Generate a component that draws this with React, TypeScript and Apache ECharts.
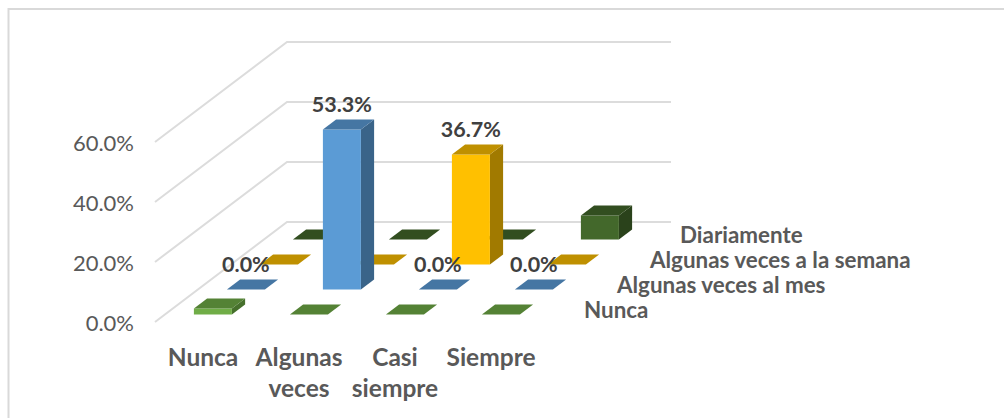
import React, { useEffect, useRef } from "react";
import * as echarts from "echarts";

const categories = ["Nunca", "Algunas\nveces", "Casi\nsiempre", "Siempre"];
const depthNames = ["Nunca", "Algunas veces al mes", "Algunas veces a la semana", "Diariamente"];
const rowNunca = [2.0, 0, 0, 0];
const rowMes = [0, 53.3, 0, 0];
const rowSemana = [0, 0, 36.7, 0];
const rowDiario = [0, 0, 0, 8.0];
const yTicks = [0, 20, 40, 60];

const rowValues = [rowNunca, rowMes, rowSemana, rowDiario];
const labelled = [
  [false, false, false, false],
  [true, true, true, true],
  [false, false, true, false],
  [false, false, false, false],
];
const faceColors = [
  { front: "#70AD47", top: "#548235", side: "#46702C" },
  { front: "#5B9BD5", top: "#4576A3", side: "#3A6489" },
  { front: "#FFC000", top: "#BF9000", side: "#A17A00" },
  { front: "#43682B", top: "#324E20", side: "#2A421B" },
];

const SLOPE = 1.32; // floor run per floor rise
const ROW = 25; // rise of a depth row
const BAR_W = 38;
const BAR_D = 10;
const FONT = "Lato, Carlito, sans-serif";

function barItem(row: number) {
  return (_p: any, api: any) => {
    const cat = api.value(0);
    const val = api.value(1);
    const base = api.coord([cat, 0]);
    const top = api.coord([cat, val]);
    const d = row * ROW + 7.5;
    const xl = base[0] - BAR_W / 2 + d * SLOPE;
    const xr = xl + BAR_W;
    const yb = base[1] - d;
    const yt = top[1] - d;
    const ox = BAR_D * SLOPE;
    const c = faceColors[row];
    const children: any[] = [];
    if (val > 0) {
      children.push({
        type: "polygon",
        shape: { points: [[xr, yb], [xr + ox, yb - BAR_D], [xr + ox, yt - BAR_D], [xr, yt]] },
        style: { fill: c.side },
      });
      children.push({
        type: "rect",
        shape: { x: xl, y: yt, width: BAR_W, height: yb - yt },
        style: { fill: c.front },
      });
    }
    children.push({
      type: "polygon",
      shape: { points: [[xl, yt], [xr, yt], [xr + ox, yt - BAR_D], [xl + ox, yt - BAR_D]] },
      style: { fill: c.top },
    });
    if (labelled[row][cat]) {
      children.push({
        type: "text",
        style: {
          x: xl + BAR_W / 2,
          y: yt - 25.5,
          text: val.toFixed(1) + "%",
          align: "center",
          verticalAlign: "middle",
          fill: "#404040",
          font: `bold 21.5px ${FONT}`,
        },
      });
    }
    return { type: "group", children };
  };
}

function wallItem(p: any, api: any) {
  const cs = p.coordSys;
  const y = api.coord([0, api.value(0)])[1];
  return {
    type: "polyline",
    shape: {
      points: [
        [cs.x, y],
        [cs.x + 100 * SLOPE, y - 100],
        [cs.x + 100 * SLOPE + cs.width, y - 100],
      ],
    },
    style: { stroke: "#DCDCDC", lineWidth: 2, fill: "none" },
  };
}

function depthLabelItem(p: any, api: any) {
  const cs = p.coordSys;
  const i = api.value(0);
  const d = i * ROW + 12.5;
  return {
    type: "text",
    style: {
      // the reference's four depth labels step a little less than the floor does
      x: cs.x + cs.width + d * SLOPE + 28.5 - (i === 3 ? 3 : 0),
      y: cs.y + cs.height - d,
      text: depthNames[i],
      align: "left",
      verticalAlign: "middle",
      fill: "#595959",
      font: `bold 22.4px ${FONT}`,
    },
  };
}

export default function App() {
  const ref = useRef<HTMLDivElement>(null);
  useEffect(() => {
    const chart = echarts.init(ref.current!, undefined, { renderer: "svg" });
    const rowSeries = [3, 2, 1, 0].map((row) => ({
      type: "custom",
      name: depthNames[row],
      renderItem: barItem(row),
      clip: false,
      encode: { x: 0, y: 1 },
      data: rowValues[row].map((v, i) => [i, v]),
    }));
    chart.setOption({
      animation: false,
      backgroundColor: "#ffffff",
      graphic: [
        {
          type: "polyline",
          shape: { points: [[8.5, 418], [8.5, 9], [1004, 9]] },
          style: { stroke: "#D9D9D9", lineWidth: 2, fill: "none" },
        },
      ],
      grid: { left: 155, top: 142, width: 384, height: 180 },
      xAxis: {
        type: "category",
        data: categories,
        axisLine: { show: false },
        axisTick: { show: false },
        axisLabel: {
          margin: 19,
          fontFamily: FONT,
          fontWeight: "bold",
          fontSize: 24.5,
          lineHeight: 31,
          color: "#595959",
          interval: 0,
        },
      },
      yAxis: {
        type: "value",
        min: 0,
        max: 60,
        interval: 20,
        splitLine: { show: false },
        axisLine: { show: false },
        axisTick: { show: false },
        axisLabel: {
          margin: 21,
          fontFamily: FONT,
          fontSize: 22,
          color: "#595959",
          formatter: (v: number) => v.toFixed(1) + "%",
        },
      },
      series: [
        {
          type: "custom",
          renderItem: wallItem,
          clip: false,
          silent: true,
          encode: { y: 0 },
          data: yTicks.map((v) => [v]),
        },
        ...rowSeries,
        {
          type: "custom",
          renderItem: depthLabelItem,
          clip: false,
          silent: true,
          encode: { y: 1 },
          data: depthNames.map((_n, i) => [i, 0]),
        },
      ],
    });
    return () => chart.dispose();
  }, []);
  return (
    <div
      ref={ref}
      style={{ position: "absolute", left: 0, top: 0, width: 1004, height: 418 }}
    />
  );
}
